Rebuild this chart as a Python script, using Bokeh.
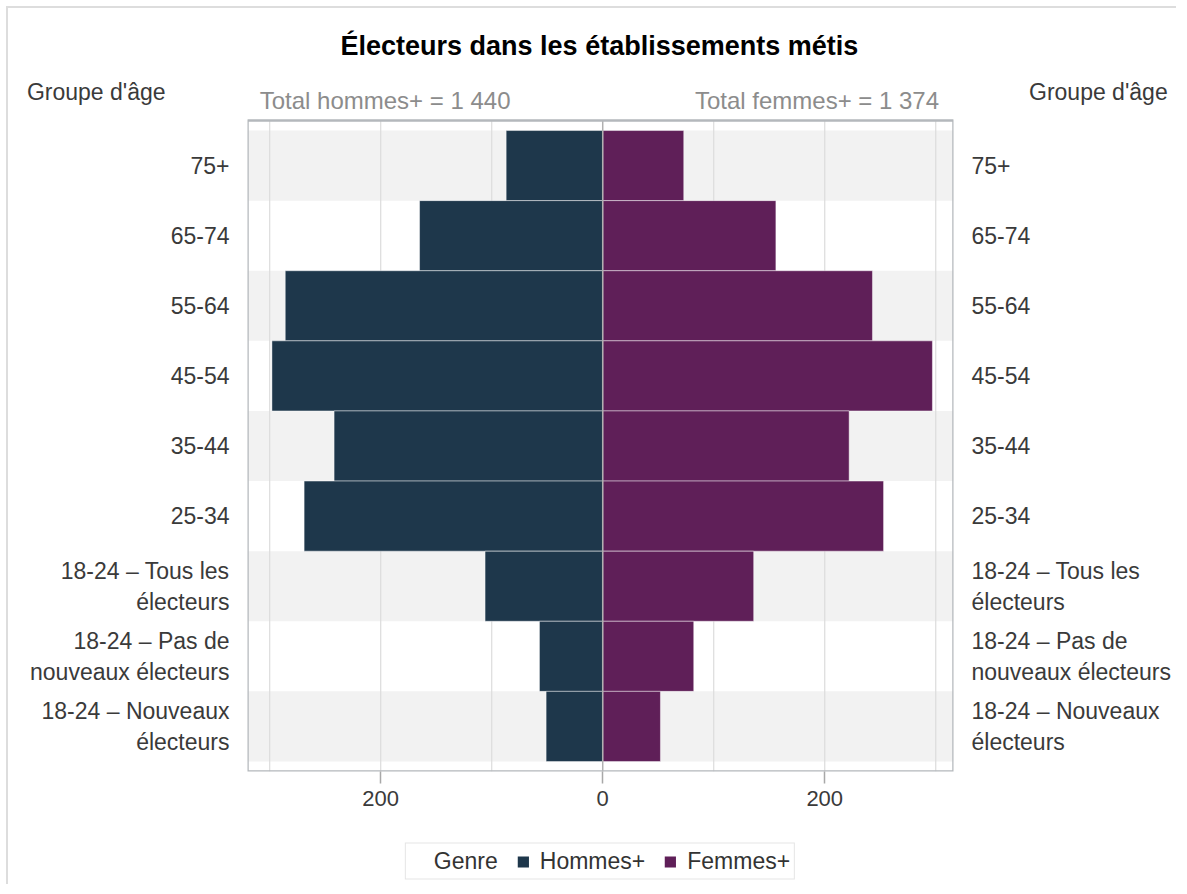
from bokeh.plotting import figure
from bokeh.layouts import column
from bokeh.models import Range1d, FixedTicker, LinearAxis, Legend, LegendItem, ColumnDataSource
from bokeh.core.properties import value
from bokeh.embed import file_html
from bokeh.resources import INLINE

# ---- data ----
categories = ["75+", "65-74", "55-64", "45-54", "35-44", "25-34",
              "18-24 – Tous les\nélecteurs",
              "18-24 – Pas de\nnouveaux électeurs",
              "18-24 – Nouveaux\nélecteurs"]
men = [87, 165, 286, 298, 242, 269, 106, 57, 51]
women = [73, 156, 243, 297, 222, 253, 136, 82, 52]
x_ticks = [-200, 0, 200]
grid_values = [-300, -200, -100, 100, 200, 300]
x_tick_labels = {-200: "200", 0: "0", 200: "200"}
title_text = "Électeurs dans les établissements métis"
axis_title = "Groupe d'âge"
total_men_label = "Total hommes+ = 1 440"
total_women_label = "Total femmes+ = 1 374"
legend_title = "Genre"
series_names = ["Hommes+", "Femmes+"]

FONT = "Liberation Sans"
MEN_COLOR = "#1E374B"
WOMEN_COLOR = "#5F1F58"
TXT = "#3a3a3a"
NBSP = "\u00a0"

W = 1168
H_MAIN = 822
H_LEG = 54
PX_ROW = 70.1           # pixels per category row
HEADER_PX = 110         # frame space above the plot area

n = len(categories)
ypos = [n - 1 - i for i in range(n)]
X0, X1 = -320, 316
Y0, Y1 = -0.643, n - 1 + 0.643
Y_TOP = Y1 + HEADER_PX / PX_ROW

def above(px):
    """data y for a point px pixels above the plot area's top edge"""
    return Y1 + px / PX_ROW

p = figure(width=W, height=H_MAIN, output_backend="svg", toolbar_location=None,
           x_range=Range1d(X0, X1), y_range=Range1d(Y0, Y_TOP),
           min_border_left=239, min_border_right=W - 239 - 706,
           min_border_top=2, min_border_bottom=H_MAIN - 2 - int(round((Y_TOP - Y0) * PX_ROW)))
p.xgrid.visible = False
p.ygrid.visible = False
p.outline_line_color = None

# alternating bands
band_y = [ypos[i] for i in range(n) if i % 2 == 0]
p.hbar(y=band_y, left=X0, right=X1, height=1.0, fill_color="#f2f2f2", line_color=None)

# grid lines
p.segment(x0=grid_values, y0=[Y0] * len(grid_values), x1=grid_values, y1=[Y1] * len(grid_values),
          line_color="#dcdcdc", line_width=1.2)

bars = dict(y=ypos, men_left=[-m for m in men], women=women)
src = ColumnDataSource(bars)
r_m = p.hbar(y="y", left="men_left", right=0, height=1.0, source=src,
             fill_color=MEN_COLOR, line_color="white", line_alpha=0.45, line_width=1)
r_w = p.hbar(y="y", left=0, right="women", height=1.0, source=src,
             fill_color=WOMEN_COLOR, line_color="white", line_alpha=0.45, line_width=1)

# zero line
p.segment(x0=[0], y0=[Y0], x1=[0], y1=[Y1], line_color="#b0b0b0", line_width=1.5)

# plot-area box
p.quad(left=[X0], right=[X1], bottom=[Y0], top=[Y1], fill_color=None,
       line_color="#b4b8bc", line_width=2.5)

# header texts
p.text(x=[-3], y=[above(75)], text=[title_text], text_align="center", text_baseline="alphabetic",
       text_font=value(FONT), text_font_style="bold", text_font_size="27px", text_color="black")
p.text(x=[-309], y=[above(20)], text=[total_men_label], text_align="left", text_baseline="alphabetic",
       text_font=value(FONT), text_font_size="24px", text_color="#8c8c8c")
p.text(x=[303], y=[above(20)], text=[total_women_label], text_align="right", text_baseline="alphabetic",
       text_font=value(FONT), text_font_size="24px", text_color="#8c8c8c")

# y axes (category labels + axis title at the top)
title_tick = above(29)
def style_y(ax, title_label):
    ax.ticker = FixedTicker(ticks=ypos + [title_tick])
    ov = {y: c for y, c in zip(ypos, categories)}
    ov[title_tick] = title_label
    ax.major_label_overrides = ov
    ax.major_tick_line_color = None
    ax.minor_tick_line_color = None
    ax.axis_line_color = None
    ax.major_label_standoff = 12
    ax.major_label_text_font = FONT
    ax.major_label_text_font_size = "23px"
    ax.major_label_text_color = TXT

style_y(p.yaxis[0], axis_title + NBSP * 10)
right_ax = LinearAxis()
style_y(right_ax, NBSP * 9 + axis_title)
p.add_layout(right_ax, "right")

xa = p.xaxis[0]
xa.ticker = FixedTicker(ticks=x_ticks)
xa.major_label_overrides = x_tick_labels
xa.major_tick_out = 12
xa.major_tick_in = 0
xa.major_tick_line_color = "#a8a8a8"
xa.major_tick_line_width = 1.5
xa.minor_tick_line_color = None
xa.axis_line_color = None
xa.major_label_standoff = 7
xa.major_label_text_font = FONT
xa.major_label_text_font_size = "22px"
xa.major_label_text_color = TXT

# ---- legend strip (same series; NaN height so only the legend swatches show) ----
lg = figure(width=W, height=H_LEG, output_backend="svg", toolbar_location=None,
            x_range=Range1d(X0, X1), y_range=Range1d(Y0, Y1),
            min_border_left=239, min_border_right=W - 239 - 706,
            min_border_top=8, min_border_bottom=0, outline_line_color=None)
lg.axis.visible = False
lg.grid.visible = False
lsrc = ColumnDataSource(bars)
NAN = float("nan")
l_blank = lg.hbar(y="y", left="men_left", right=0, height=NAN, source=lsrc,
                  fill_alpha=0, line_color=None)
l_m = lg.hbar(y="y", left="men_left", right=0, height=NAN, source=lsrc,
              fill_color=MEN_COLOR, line_color=None)
l_w = lg.hbar(y="y", left=0, right="women", height=NAN, source=lsrc,
              fill_color=WOMEN_COLOR, line_color=None)
legend = Legend(items=[LegendItem(label=legend_title, renderers=[l_blank]),
                       LegendItem(label=series_names[0], renderers=[l_m]),
                       LegendItem(label=series_names[1], renderers=[l_w])],
                orientation="horizontal", location="center",
                label_text_font=FONT, label_text_font_size="23px", label_text_color="#333333",
                glyph_width=14, glyph_height=14, label_standoff=10, spacing=18,
                padding=4, margin=0, border_line_color="#cccccc", border_line_width=1.5,
                background_fill_color="white")
lg.add_layout(legend, "center")

layout = column(p, lg, spacing=0,
                styles={"margin": "6px",
                        "border-left": "2px solid #dddddd",
                        "border-top": "2px solid #dddddd"})

open("out.html", "w").write(file_html(layout, INLINE))
